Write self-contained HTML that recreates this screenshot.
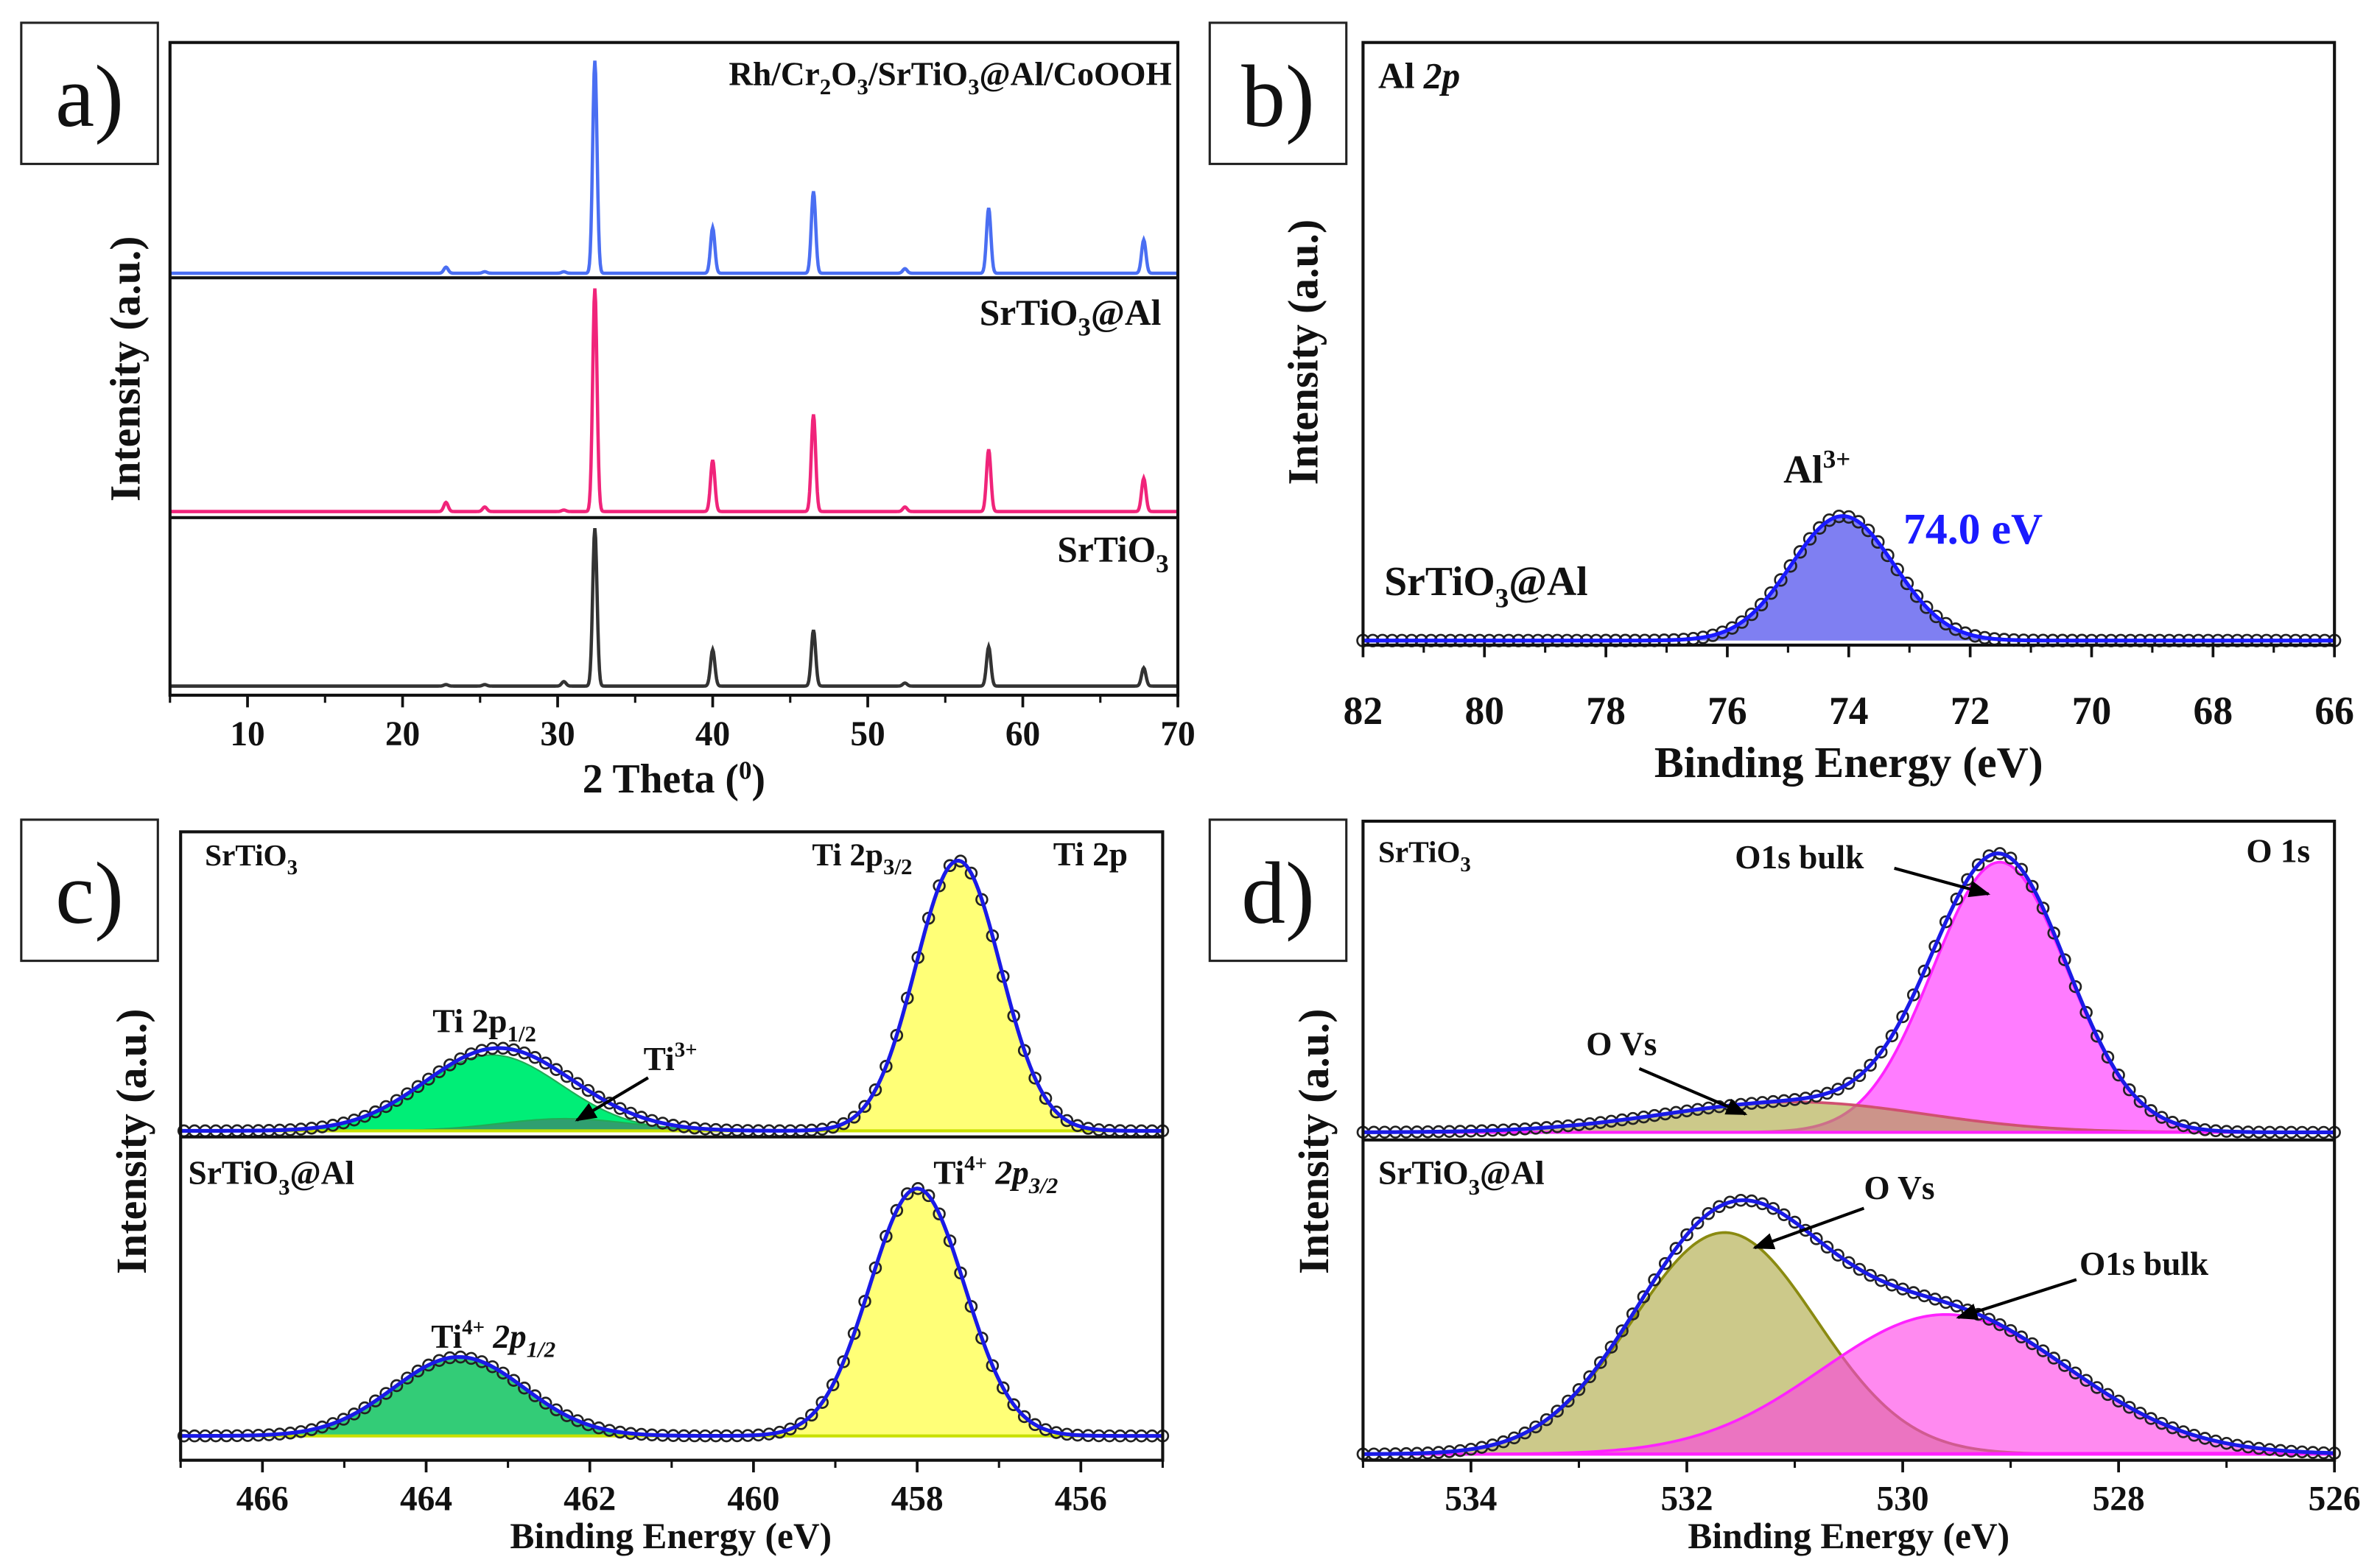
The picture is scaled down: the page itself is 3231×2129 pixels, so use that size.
<!DOCTYPE html>
<html><head><meta charset="utf-8">
<style>
html,body{margin:0;padding:0;background:#fff;}
svg{display:block;}
text{font-family:"Liberation Serif",serif;font-weight:bold;fill:#111;}
</style></head>
<body>
<svg id="fig" xmlns="http://www.w3.org/2000/svg" width="3231" height="2129" viewBox="0 0 1568 1033" preserveAspectRatio="none">
<defs>
<marker id="arr" viewBox="0 0 10 10" refX="9" refY="5" markerWidth="7" markerHeight="7" orient="auto"><path d="M0,1 L10,5 L0,9 z" fill="#000"/></marker>
</defs>
<g id="root"></g>
</svg>
<script>
// ---------- Panel a data (XRD) ----------
const xrdPos = [22.8, 25.3, 30.4, 32.4, 40.0, 46.5, 52.4, 57.8, 67.8];
const xrdTop = [4, 1, 1, 140, 30, 54, 3, 43, 22];
const xrdMid = [6, 3, 1, 147, 34, 64, 3, 41, 22];
const xrdBot = [1, 1, 3, 104, 24, 37, 2, 26, 12];
const xrdTicks = [10, 20, 30, 40, 50, 60, 70];
// ---------- Panel b data (Al 2p) ----------
const alCenter = [74.1];
const alHeight = [82];
const alSigma = [0.85];
const bTicks = [82, 80, 78, 76, 74, 72, 70, 68, 66];
// ---------- Panel c data (Ti 2p) ----------
const tiTopCenters = [457.5, 463.2, 462.3];
const tiTopHeights = [178, 50, 8];
const tiTopSigmas = [0.52, 0.85, 0.8];
const tiBotCenters = [458.0, 463.6];
const tiBotHeights = [163, 52];
const tiBotSigmas = [0.58, 0.8];
const cTicks = [466, 464, 462, 460, 458, 456];
// ---------- Panel d data (O 1s) ----------
const oTopCenters = [529.1, 531.0];
const oTopHeights = [178, 20];
const oTopSigmas = [0.62, 1.2];
const oBotCenters = [531.65, 529.6];
const oBotHeights = [146, 92];
const oBotSigmas = [0.85, 1.15];
const dTicks = [534, 532, 530, 528, 526];

const NS = "http://www.w3.org/2000/svg";
const root = document.getElementById('root');
function mk(tag, attrs, parent) {
  const e = document.createElementNS(NS, tag);
  for (const k in attrs) e.setAttribute(k, attrs[k]);
  (parent || root).appendChild(e);
  return e;
}
function lin(d0, d1, r0, r1) { return v => r0 + (v - d0) / (d1 - d0) * (r1 - r0); }
function gauss(x, c, h, s) { return h * Math.exp(-((x - c) * (x - c)) / (2 * s * s)); }
function sumAt(x, cs, hs, ss, idx) {
  let v = 0;
  for (let i = 0; i < cs.length; i++) if (idx === undefined || idx === i) v += gauss(x, cs[i], hs[i], ss[i]);
  return v;
}
function txt(x, y, s, size, parent, anchor, extra) {
  const t = mk('text', Object.assign({x: x, y: y, 'font-size': size, 'text-anchor': anchor || 'start'}, extra || {}), parent);
  t.innerHTML = s;
  return t;
}
function frame(x0, y0, x1, y1, name) {
  const r = mk('rect', {x: x0, y: y0, width: x1 - x0, height: y1 - y0, fill: 'none', stroke: '#111', 'stroke-width': 2});
  
  
}
function labelBox(x, y, l) {
  const g = mk('g', {});
  
  
  mk('rect', {x: x, y: y, width: 90, height: 93, fill: '#fff', stroke: '#222', 'stroke-width': 1.5}, g);
  const t = txt(x + 45, y + 68, l + ')', 58, g, 'middle');
  t.setAttribute('font-weight', 'normal');
  t.style.fontWeight = 'normal';
}
function xAxis(sx, ticks, y, minorStep, lo, hi, name, fs, off) {
  const g = mk('g', {});
  
  
  for (let v = Math.min(lo, hi); v <= Math.max(lo, hi) + 1e-6; v += minorStep) {
    mk('line', {x1: sx(v), x2: sx(v), y1: y, y2: y + 5, stroke: '#111', 'stroke-width': 1.5}, g);
  }
  ticks.forEach(v => {
    mk('line', {x1: sx(v), x2: sx(v), y1: y, y2: y + 8, stroke: '#111', 'stroke-width': 1.8}, g);
    txt(sx(v), y + (off || 33), String(v), fs || 23, g, 'middle');
  });
}
function pathFrom(xs, f, sx) {
  return xs.map((x, i) => (i ? 'L' : 'M') + sx(x).toFixed(2) + ',' + f(x).toFixed(2)).join('');
}
function range(a, b, step) { const r = []; for (let v = a; v <= b + 1e-9; v += step) r.push(v); return r; }
function arrow(x1, y1, x2, y2, name) {
  const l = mk('line', {x1: x1, y1: y1, x2: x2, y2: y2, stroke: '#000', 'stroke-width': 2, 'marker-end': 'url(#arr)'});
  
  
}

// ================= Panel a =================
labelBox(14, 15, 'a');
(function () {
  const sx = lin(5, 70, 112, 776);
  const xs = range(5, 70, 0.05);
  const sets = [[xrdTop, 180, '#4a6ef2', 'xrd-line-rh-cr2o3-srtio3-al-cooh'], [xrdMid, 337, '#f0247a', 'xrd-line-srtio3-al'], [xrdBot, 452, '#333333', 'xrd-line-srtio3']];
  sets.forEach(s => {
    const vals = s[0], base = s[1];
    const sy = v => base - v;
    const p = mk('path', {d: pathFrom(xs, x => sy(sumAt(x, xrdPos, vals, xrdPos.map(() => 0.14))), sx), fill: 'none', stroke: s[2], 'stroke-width': 2.2});
    
    
  });
  frame(112, 28, 776, 458, 'panel-a-frame');
  mk('line', {x1: 112, x2: 776, y1: 183, y2: 183, stroke: '#111', 'stroke-width': 2});
  mk('line', {x1: 112, x2: 776, y1: 341, y2: 341, stroke: '#111', 'stroke-width': 2});
  xAxis(sx, xrdTicks, 458, 5, 5, 70, 'panel-a-x-axis', 23);
  const t = txt(444, 522, '2 Theta (<tspan font-size="17" dy="-9">0</tspan><tspan dy="9">)</tspan>', 27, null, 'middle');
  
  const yt = txt(0, 0, 'Intensity (a.u.)', 28, null, 'middle', {transform: 'translate(92,243) rotate(-90)'});
  
  txt(772, 56, 'Rh/Cr<tspan font-size="15" dy="6">2</tspan><tspan dy="-6">O</tspan><tspan font-size="15" dy="6">3</tspan><tspan dy="-6">/SrTiO</tspan><tspan font-size="15" dy="6">3</tspan><tspan dy="-6">@Al/CoOOH</tspan>', 22, null, 'end');
  txt(765, 214, 'SrTiO<tspan font-size="17" dy="7">3</tspan><tspan dy="-7">@Al</tspan>', 24, null, 'end');
  txt(770, 370, 'SrTiO<tspan font-size="17" dy="7">3</tspan>', 24, null, 'end');
})();

// ================= Panel b =================
labelBox(797, 15, 'b');
(function () {
  const sx = lin(82, 66, 898, 1538);
  const base = 422;
  const sy = v => base - v;
  const xs = range(66, 82, 0.05);
  const f = x => sy(sumAt(x, alCenter, alHeight, alSigma));
  const fill = mk('path', {d: pathFrom(xs, f, sx) + 'L' + sx(82) + ',' + base + 'L' + sx(66) + ',' + base + 'Z', fill: '#7f7ff2', stroke: 'none'});
  
  const pts = mk('g', {fill: 'none', stroke: '#222', 'stroke-width': 1.3});
  
  range(66, 82, 0.16).forEach(x => mk('circle', {cx: sx(x), cy: f(x), r: 3.8}, pts));
  const l = mk('path', {d: pathFrom(xs, f, sx), fill: 'none', stroke: '#1a1aff', 'stroke-width': 2.5});
  
  frame(898, 28, 1538, 425, 'panel-b-frame');
  xAxis(sx, bTicks, 425, 1, 66, 82, 'panel-b-x-axis', 26, 52);
  txt(1218, 512, 'Binding Energy (eV)', 29, null, 'middle');
  txt(0, 0, 'Intensity (a.u.)', 28, null, 'middle', {transform: 'translate(868,232) rotate(-90)'});
  txt(908, 58, 'Al <tspan font-style="italic">2p</tspan>', 24);
  txt(1175, 318, 'Al<tspan font-size="17" dy="-10">3+</tspan>', 26);
  const e = txt(1254, 358, '74.0 eV', 29); e.setAttribute('fill', '#1a1aff'); e.style.fill = '#1a1aff'; 
  txt(912, 392, 'SrTiO<tspan font-size="18" dy="8">3</tspan><tspan dy="-8">@Al</tspan>', 27);
})();

// ================= Panel c =================
labelBox(14, 540, 'c');
(function () {
  const sx = lin(467, 455, 119, 766);
  const xs = range(455, 467, 0.03);
  function sub(cs, hs, ss, base, fills, names, tag) {
    const sy = v => base - v;
    for (let i = 0; i < cs.length; i++) {
      const f = x => sy(sumAt(x, cs, hs, ss, i));
      const p = mk('path', {d: pathFrom(xs, f, sx) + 'L' + sx(455) + ',' + base + 'L' + sx(467) + ',' + base + 'Z', fill: fills[i], stroke: fills[i] === '#ffff77' ? '#dede00' : '#22aa55', 'stroke-width': 1});
      
      
    }
    mk('line', {x1: sx(467), x2: sx(455), y1: base, y2: base, stroke: '#c8e000', 'stroke-width': 2});
    const tot = x => sy(sumAt(x, cs, hs, ss));
    const pts = mk('g', {fill: 'none', stroke: '#222', 'stroke-width': 1.3});
    
    range(455, 467, 0.13).forEach(x => mk('circle', {cx: sx(x), cy: tot(x), r: 3.6}, pts));
    const l = mk('path', {d: pathFrom(xs, tot, sx), fill: 'none', stroke: '#1a1ae6', 'stroke-width': 2.5});
    
  }
  sub(tiTopCenters, tiTopHeights, tiTopSigmas, 745, ['#ffff77', '#00ee77', '#2f9f70'], ['ti-2p32-fill', 'ti-2p12-fill', 'ti3-fill'], 'ti-srtio3');
  sub(tiBotCenters, tiBotHeights, tiBotSigmas, 946, ['#ffff77', '#33cc77'], ['ti4-2p32-fill', 'ti4-2p12-fill'], 'ti-srtio3-al');
  frame(119, 548, 766, 962, 'panel-c-frame');
  mk('line', {x1: 119, x2: 766, y1: 749, y2: 749, stroke: '#111', 'stroke-width': 2});
  xAxis(sx, cTicks, 962, 1, 455, 467, 'panel-c-x-axis', 23);
  txt(442, 1020, 'Binding Energy (eV)', 24, null, 'middle');
  txt(0, 0, 'Intensity (a.u.)', 28, null, 'middle', {transform: 'translate(96,752) rotate(-90)'});
  txt(135, 570, 'SrTiO<tspan font-size="14" dy="6">3</tspan>', 20);
  txt(743, 570, 'Ti 2p', 22, null, 'end');
  txt(535, 570, 'Ti 2p<tspan font-size="15" dy="6">3/2</tspan>', 21);
  txt(285, 680, 'Ti 2p<tspan font-size="15" dy="6">1/2</tspan>', 22);
  txt(424, 705, 'Ti<tspan font-size="14" dy="-9">3+</tspan>', 22);
  arrow(427, 710, 380, 738, 'arrow-ti3');
  txt(124, 780, 'SrTiO<tspan font-size="15" dy="7">3</tspan><tspan dy="-7">@Al</tspan>', 22);
  txt(615, 780, 'Ti<tspan font-size="14" dy="-9">4+</tspan><tspan dy="9" font-style="italic"> 2p</tspan><tspan font-size="15" dy="6" font-style="italic">3/2</tspan>', 22);
  txt(284, 888, 'Ti<tspan font-size="14" dy="-9">4+</tspan><tspan dy="9" font-style="italic"> 2p</tspan><tspan font-size="15" dy="6" font-style="italic">1/2</tspan>', 22);
})();

// ================= Panel d =================
labelBox(797, 540, 'd');
(function () {
  const sx = lin(535, 526, 898, 1538);
  const xs = range(526, 535, 0.03);
  function sub(cs, hs, ss, base, fills, strokes, names, tag) {
    const sy = v => base - v;
    for (let i = 0; i < cs.length; i++) {
      const f = x => sy(sumAt(x, cs, hs, ss, i));
      const p = mk('path', {d: pathFrom(xs, f, sx) + 'L' + sx(526) + ',' + base + 'L' + sx(535) + ',' + base + 'Z', fill: fills[i], stroke: strokes[i], 'stroke-width': 1.8});
      
      
    }
    mk('line', {x1: sx(535), x2: sx(526), y1: base, y2: base, stroke: '#ff22ff', 'stroke-width': 2});
    const tot = x => sy(sumAt(x, cs, hs, ss));
    const pts = mk('g', {fill: 'none', stroke: '#222', 'stroke-width': 1.3});
    
    range(526, 535, 0.1).forEach(x => mk('circle', {cx: sx(x), cy: tot(x), r: 3.6}, pts));
    const l = mk('path', {d: pathFrom(xs, tot, sx), fill: 'none', stroke: '#1a1ae6', 'stroke-width': 2.5});
    
  }
  sub(oTopCenters, oTopHeights, oTopSigmas, 746, ['rgba(255,80,255,0.75)', 'rgba(170,165,60,0.6)'], ['#ff22ff', '#d05070'], ['o1s-bulk-fill', 'o-vs-fill'], 'o-srtio3');
  sub(oBotCenters, oBotHeights, oBotSigmas, 958, ['rgba(170,165,60,0.6)', 'rgba(255,60,230,0.6)'], ['#8a8a10', '#ff22ff'], ['o-vs-fill-al', 'o1s-bulk-fill-al'], 'o-srtio3-al');
  frame(898, 541, 1538, 962, 'panel-d-frame');
  mk('line', {x1: 898, x2: 1538, y1: 751, y2: 751, stroke: '#111', 'stroke-width': 2});
  xAxis(sx, dTicks, 962, 1, 526, 535, 'panel-d-x-axis', 23);
  txt(1218, 1020, 'Binding Energy (eV)', 24, null, 'middle');
  txt(0, 0, 'Intensity (a.u.)', 28, null, 'middle', {transform: 'translate(875,752) rotate(-90)'});
  txt(908, 568, 'SrTiO<tspan font-size="14" dy="6">3</tspan>', 20);
  txt(1522, 568, 'O 1s', 22, null, 'end');
  txt(1143, 572, 'O1s bulk', 22);
  arrow(1248, 572, 1310, 589, 'arrow-o1s-bulk-top');
  txt(1045, 695, 'O Vs', 22);
  arrow(1080, 704, 1150, 734, 'arrow-ovs-top');
  txt(908, 780, 'SrTiO<tspan font-size="15" dy="7">3</tspan><tspan dy="-7">@Al</tspan>', 22);
  txt(1228, 790, 'O Vs', 22);
  arrow(1228, 796, 1156, 822, 'arrow-ovs-bot');
  txt(1370, 840, 'O1s bulk', 22);
  arrow(1368, 843, 1290, 868, 'arrow-o1s-bulk-bot');
})();
</script>
</body></html>
